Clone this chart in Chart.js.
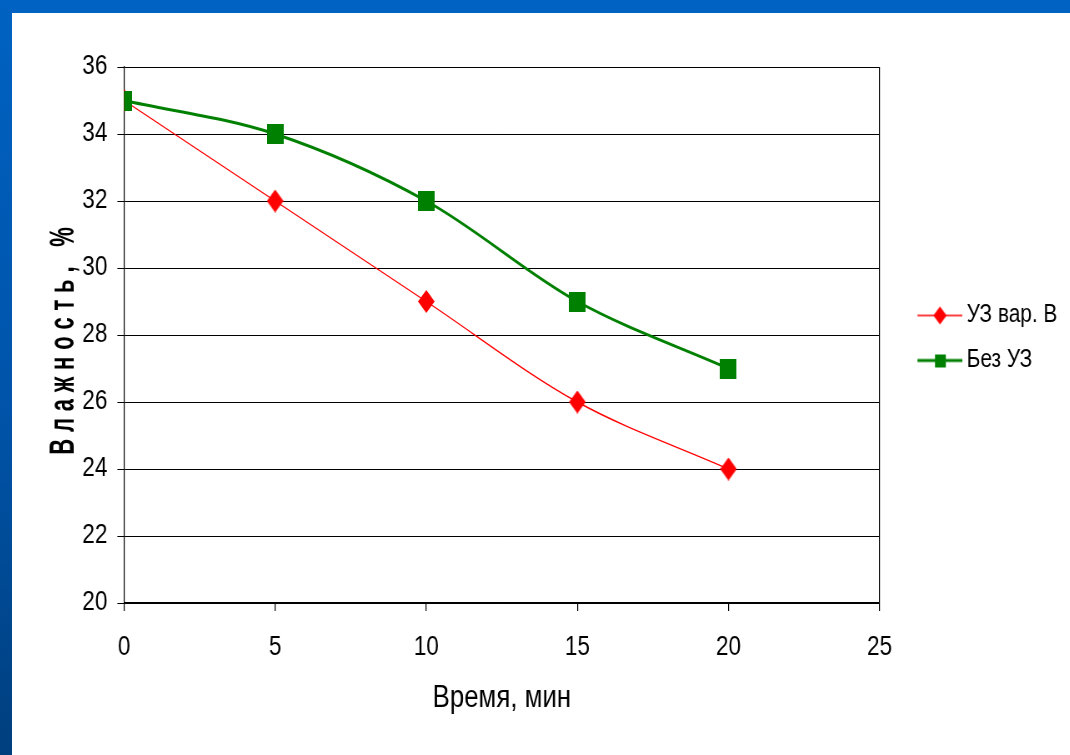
<!DOCTYPE html>
<html>
<head>
    <title>Влажность</title>
    <script src="https://cdn.jsdelivr.net/npm/chart.js"></script>
    <style>
        html, body {
            margin: 0;
            padding: 0;
            width: 1070px;
            height: 755px;
            overflow: hidden;
            background: linear-gradient(180deg, #0062c2 0%, #0053a8 55%, #003f7e 100%);
        }
        .slide {
            position: absolute;
            left: 12px;
            top: 13px;
            width: 1058px;
            height: 742px;
            background: #fff;
            overflow: hidden;
        }
        #moistChart {
            display: block;
        }
    </style>
</head>
<body>
    <div class="slide">
        <!-- the original slide is squeezed sideways, so the canvas is drawn wider and shown narrower -->
        <canvas id="moistChart" width="1280" height="742" style="width: 1066.67px; height: 742px;"></canvas>
    </div>

    <script>
        // data
        const timeMin = [0, 5, 10, 15, 20];
        const uzVarB = [35, 32, 29, 26, 24];
        const bezUz = [35, 34, 32, 29, 27];
        const seriesNames = ['УЗ вар. В', 'Без УЗ'];
        const xAxisRange = [0, 25, 5];
        const yAxisRange = [20, 36, 2];
        const xTitle = 'Время, мин';
        const yTitle = 'Влажность, %';

        const K = 1.2; // horizontal squeeze of the slide
        const RED = '#ff0000';
        const GREEN = '#008000';
        const FONT = '"Liberation Sans", Arial, sans-serif';

        function marker(shape, w, h, color) {
            const c = document.createElement('canvas');
            c.width = w;
            c.height = h;
            const g = c.getContext('2d');
            g.fillStyle = color;
            if (shape === 'diamond') {
                g.beginPath();
                g.moveTo(w / 2, 0);
                g.lineTo(w, h / 2);
                g.lineTo(w / 2, h);
                g.lineTo(0, h / 2);
                g.closePath();
                g.fill();
            } else {
                g.fillRect(0, 0, w, h);
            }
            return c;
        }

        // legend icon: line with marker, kept in the right part of a wider image
        function legendIcon(shape, color, lw, mw, mh) {
            const w = 87, h = 24, lineStart = 33;
            const c = document.createElement('canvas');
            c.width = w;
            c.height = h;
            const g = c.getContext('2d');
            g.strokeStyle = color;
            g.lineWidth = lw;
            g.beginPath();
            g.moveTo(lineStart, h / 2);
            g.lineTo(w, h / 2);
            g.stroke();
            const m = marker(shape, mw, mh, color);
            g.drawImage(m, Math.round((lineStart + w) / 2 - mw / 2), Math.round(h / 2 - mh / 2));
            return c;
        }

        const redMarker = marker('diamond', 20, 23, RED);
        const greenMarker = marker('rect', 20, 20, GREEN);
        const legendIcons = [
            legendIcon('diamond', RED, 1.5, 16, 18),
            legendIcon('rect', GREEN, 3, 13, 13)
        ];

        const yTitlePlugin = {
            id: 'yTitle',
            afterDraw(chart) {
                const ctx = chart.ctx;
                const spacing = 6.8;
                ctx.save();
                ctx.translate(52 * K, 328);
                ctx.rotate(-Math.PI / 2);
                ctx.scale(1, 1.95);
                ctx.font = 'bold 22px ' + FONT;
                ctx.fillStyle = '#000';
                ctx.textBaseline = 'middle';
                ctx.textAlign = 'left';
                const chars = Array.from(yTitle);
                const widths = chars.map(ch => ctx.measureText(ch).width);
                const total = widths.reduce((a, b) => a + b, 0) + spacing * (chars.length - 1);
                let x = -total / 2;
                chars.forEach((ch, i) => {
                    ctx.fillText(ch, x, 0);
                    x += widths[i] + spacing;
                });
                ctx.restore();
            }
        };

        const ctx = document.getElementById('moistChart').getContext('2d');
        const chart = new Chart(ctx, {
            type: 'line',
            data: {
                datasets: [
                    {
                        label: seriesNames[0],
                        data: timeMin.map((t, i) => ({ x: t, y: uzVarB[i] })),
                        borderColor: RED,
                        backgroundColor: RED,
                        borderWidth: 1.4,
                        pointStyle: redMarker,
                        pointRadius: 10,
                        tension: 0.33,
                        order: 1
                    },
                    {
                        label: seriesNames[1],
                        data: timeMin.map((t, i) => ({ x: t, y: bezUz[i] })),
                        borderColor: GREEN,
                        backgroundColor: GREEN,
                        borderWidth: 3,
                        pointStyle: greenMarker,
                        pointRadius: 10,
                        tension: 0.33,
                        order: 0
                    }
                ]
            },
            options: {
                responsive: false,
                animation: false,
                layout: {
                    padding: { left: 0, top: 54, right: 16, bottom: 0 }
                },
                plugins: {
                    tooltip: { enabled: false },
                    legend: {
                        position: 'right',
                        fullSize: false,
                        // empty title only nudges the items down a little
                        title: { display: true, text: '', font: { size: 6, lineHeight: 1 }, padding: 0 },
                        labels: {
                            usePointStyle: true,
                            pointStyleWidth: 72,
                            padding: 20,
                            color: '#000',
                            font: { family: FONT, size: 25 },
                            generateLabels: () => seriesNames.map((name, i) => ({
                                text: name,
                                pointStyle: legendIcons[i],
                                fillStyle: 'transparent',
                                strokeStyle: 'transparent',
                                lineWidth: 0,
                                fontColor: '#000',
                                hidden: false,
                                datasetIndex: i
                            }))
                        }
                    }
                },
                scales: {
                    x: {
                        type: 'linear',
                        min: xAxisRange[0],
                        max: xAxisRange[1],
                        ticks: {
                            stepSize: xAxisRange[2],
                            color: '#000',
                            padding: 20,
                            font: { family: FONT, size: 27 }
                        },
                        grid: {
                            color: c => (c.tick && c.tick.value === xAxisRange[1]) ? '#000' : 'rgba(0,0,0,0)',
                            tickColor: '#000',
                            tickLength: 8,
                            lineWidth: 1.2
                        },
                        border: { display: true, color: '#000', width: 1.2 },
                        title: {
                            display: true,
                            text: xTitle,
                            color: '#000',
                            font: { family: FONT, size: 31 },
                            padding: { top: 0, bottom: 38 }
                        },
                        afterFit: (scale) => { scale.height = 152; }
                    },
                    y: {
                        min: yAxisRange[0],
                        max: yAxisRange[1],
                        ticks: {
                            stepSize: yAxisRange[2],
                            color: '#000',
                            padding: 12,
                            font: { family: FONT, size: 27 }
                        },
                        grid: {
                            color: '#000',
                            tickColor: '#000',
                            tickLength: 8,
                            lineWidth: 1
                        },
                        border: { display: true, color: '#000', width: 1.2 },
                        afterFit: (scale) => { scale.width = 112 * K; }
                    }
                }
            },
            plugins: [yTitlePlugin]
        });
    </script>
</body>
</html>
